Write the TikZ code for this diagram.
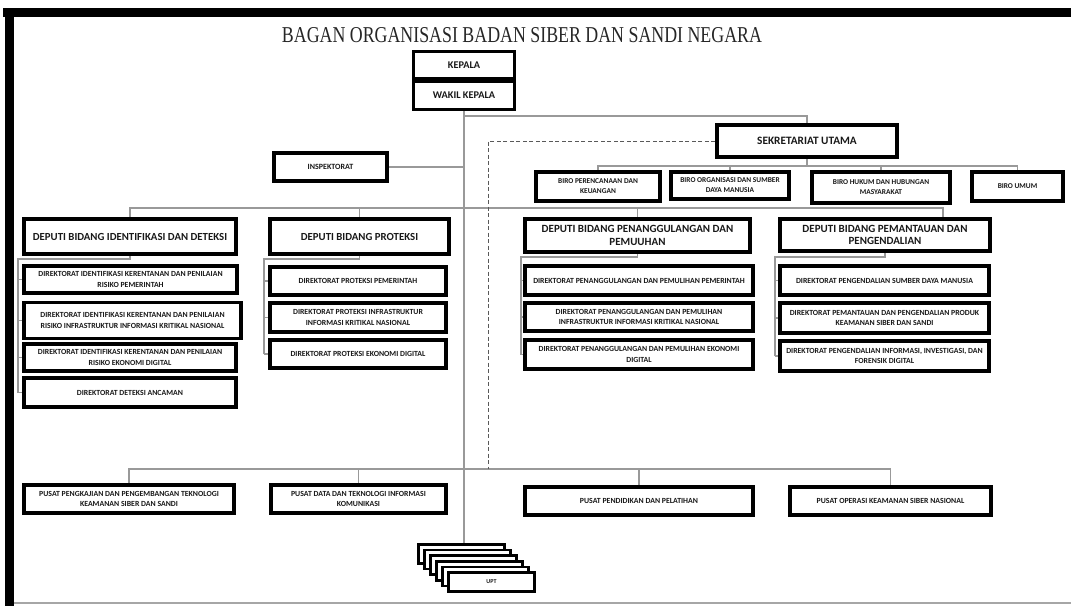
\documentclass[tikz,border=0pt]{standalone}
\usepackage{fontspec}
\usepackage{graphicx}
\setmainfont{Carlito}
\newfontfamily\titlefont{Liberation Serif}
\usetikzlibrary{backgrounds}
\tikzset{
  box/.style={draw=black, line width=3.6pt, fill=white, inner sep=0pt, align=center,
    text=black!90, font=\bfseries\fontsize{7.8}{10.4}\selectfont},
  bigbox/.style={box, line width=4pt, font=\bfseries\fontsize{10.8}{12.5}\selectfont},
  topbox/.style={box, line width=3.2pt, font=\bfseries\fontsize{10.3}{11}\selectfont},
  uptbox/.style={box, line width=2.6pt, minimum width=86pt, minimum height=19pt, font=\bfseries\fontsize{6}{7}\selectfont},
  conn/.style={draw=black!40, line width=1.3pt},
  dconn/.style={draw=black!65, line width=0.9pt, dash pattern=on 4pt off 2.5pt},
}
\begin{document}
\begin{tikzpicture}[x=1pt,y=-1pt]
\useasboundingbox (0,0) rectangle (1071,606);
% frame
\fill[black] (3,8) rectangle (1071,17);
\fill[black] (5,8) rectangle (14,606);
\draw[black!35, line width=1.5pt] (14,603) -- (1071,603);
% title
\node[text=black!85, inner sep=0pt] (title) at (522,35.5) {\resizebox{480pt}{15pt}{\titlefont BAGAN ORGANISASI BADAN SIBER DAN SANDI NEGARA}};
% top
\node[topbox, minimum width=101pt, minimum height=27pt] (kepala) at (464,65) {KEPALA};
\node[topbox, minimum width=101pt, minimum height=28pt] (wakil) at (464,95.5) {WAKIL KEPALA};
\node[bigbox, minimum width=180pt, minimum height=32pt, font=\bfseries\fontsize{11.3}{12.5}\selectfont] (sekre) at (807,141) {SEKRETARIAT UTAMA};
\node[box, minimum width=113pt, minimum height=28pt, font=\bfseries\fontsize{8}{9}\selectfont] (insp) at (330.5,167) {INSPEKTORAT};
% biro
\node[box, minimum width=124pt, minimum height=29pt, font=\bfseries\fontsize{7.4}{10}\selectfont] (biro1) at (598,186.5) {BIRO PERENCANAAN DAN\\KEUANGAN};
\node[box, minimum width=118pt, minimum height=27pt, font=\bfseries\fontsize{7.4}{10}\selectfont] (biro2) at (730,185.5) {BIRO ORGANISASI DAN SUMBER\\DAYA MANUSIA};
\node[box, minimum width=138pt, minimum height=31pt, font=\bfseries\fontsize{7.4}{10}\selectfont] (biro3) at (881,187.5) {BIRO HUKUM DAN HUBUNGAN\\MASYARAKAT};
\node[box, minimum width=91pt, minimum height=29pt, font=\bfseries\fontsize{7.4}{10}\selectfont] (biro4) at (1017.5,186.5) {BIRO UMUM};
% deputi
\node[bigbox, minimum width=212pt, minimum height=35pt] (dep1) at (130,236.5) {DEPUTI BIDANG IDENTIFIKASI DAN DETEKSI};
\node[bigbox, minimum width=179pt, minimum height=35pt] (dep2) at (359.5,236.5) {DEPUTI BIDANG PROTEKSI};
\node[bigbox, minimum width=225pt, minimum height=33pt, font=\bfseries\fontsize{11}{12.5}\selectfont] (dep3) at (637.5,235.5) {DEPUTI BIDANG PENANGGULANGAN DAN\\PEMUUHAN};
\node[bigbox, minimum width=210pt, minimum height=32pt, font=\bfseries\fontsize{11}{12.5}\selectfont] (dep4) at (885,235) {DEPUTI BIDANG PEMANTAUAN DAN\\PENGENDALIAN};
% direktorat 1
\node[box, minimum width=213pt, minimum height=27pt] (d1a) at (130.5,279.5) {DIREKTORAT IDENTIFIKASI KERENTANAN DAN PENILAIAN\\RISIKO PEMERINTAH};
\node[box, minimum width=217pt, minimum height=36pt] (d1b) at (132.5,320.5) {DIREKTORAT IDENTIFIKASI KERENTANAN DAN PENILAIAN\\RISIKO INFRASTRUKTUR INFORMASI KRITIKAL NASIONAL};
\node[box, minimum width=212pt, minimum height=27pt] (d1c) at (130,357.5) {DIREKTORAT IDENTIFIKASI KERENTANAN DAN PENILAIAN\\RISIKO EKONOMI DIGITAL};
\node[box, minimum width=212pt, minimum height=29pt] (d1d) at (130,392.5) {DIREKTORAT DETEKSI ANCAMAN};
% direktorat 2
\node[box, minimum width=176pt, minimum height=28pt] (d2a) at (358,281) {DIREKTORAT PROTEKSI PEMERINTAH};
\node[box, minimum width=176pt, minimum height=29pt] (d2b) at (358,317.5) {DIREKTORAT PROTEKSI INFRASTRUKTUR\\INFORMASI KRITIKAL NASIONAL};
\node[box, minimum width=176pt, minimum height=28pt] (d2c) at (358,354) {DIREKTORAT PROTEKSI EKONOMI DIGITAL};
% direktorat 3
\node[box, minimum width=228pt, minimum height=29pt] (d3a) at (639,280.5) {DIREKTORAT PENANGGULANGAN DAN PEMULIHAN PEMERINTAH};
\node[box, minimum width=228pt, minimum height=28pt] (d3b) at (639,317) {DIREKTORAT PENANGGULANGAN DAN PEMULIHAN\\INFRASTRUKTUR INFORMASI KRITIKAL NASIONAL};
\node[box, minimum width=228pt, minimum height=29pt] (d3c) at (639,354.5) {DIREKTORAT PENANGGULANGAN DAN PEMULIHAN EKONOMI\\DIGITAL};
% direktorat 4
\node[box, minimum width=209pt, minimum height=29pt] (d4a) at (884.5,280.5) {DIREKTORAT PENGENDALIAN SUMBER DAYA MANUSIA};
\node[box, minimum width=209pt, minimum height=30pt] (d4b) at (884.5,318) {DIREKTORAT PEMANTAUAN DAN PENGENDALIAN PRODUK\\KEAMANAN SIBER DAN SANDI};
\node[box, minimum width=209pt, minimum height=30pt] (d4c) at (884.5,356) {DIREKTORAT PENGENDALIAN INFORMASI, INVESTIGASI, DAN\\FORENSIK DIGITAL};
% pusat
\node[box, minimum width=210pt, minimum height=28pt] (p1) at (129,499) {PUSAT PENGKAJIAN DAN PENGEMBANGAN TEKNOLOGI\\KEAMANAN SIBER DAN SANDI};
\node[box, minimum width=175pt, minimum height=28pt] (p2) at (358.5,499) {PUSAT DATA DAN TEKNOLOGI INFORMASI\\KOMUNIKASI};
\node[box, minimum width=228pt, minimum height=28pt] (p3) at (639,501) {PUSAT PENDIDIKAN DAN PELATIHAN};
\node[box, minimum width=201pt, minimum height=28pt] (p4) at (890.5,501) {PUSAT OPERASI KEAMANAN SIBER NASIONAL};
% UPT stack
\node[uptbox] (upt0) at (461.5,554) {};
\node[uptbox] (upt1) at (467.5,559.6) {};
\node[uptbox] (upt2) at (473.5,565.2) {};
\node[uptbox] (upt3) at (479.5,570.8) {};
\node[uptbox] (upt4) at (485.5,576.4) {};
\node[uptbox] (upt5) at (491.5,582) {UPT};
% connectors
\begin{pgfonlayer}{background}
\coordinate (j1) at (464,116);
\coordinate (dj) at (943,208);
\coordinate (bj) at (807,166);
\coordinate (pj) at (890.5,469);
\coordinate (dsh) at (488,141);
\coordinate (b1) at (18,259);
\coordinate (b2) at (264,259);
\coordinate (b3) at (521,257);
\coordinate (b4) at (775,257);
\draw[conn] (wakil.south) -- (wakil.south |- upt0.north);
\draw[conn] (j1) -| (sekre.north);
\draw[conn] (insp.east) -- (insp.east -| j1);
\draw[conn] (dep1.north) |- (dj) -- (dj |- dep4.north);
\draw[conn] (dep2.north) -- (dep2.north |- dj);
\draw[conn] (dep3.north) -- (dep3.north |- dj);
\draw[conn] (sekre.south) -- (bj);
\draw[conn] (biro1.north) |- (biro4.north |- bj) -- (biro4.north);
\draw[conn] (biro2.north) -- (biro2.north |- bj);
\draw[conn] (biro3.north) -- (biro3.north |- bj);
\draw[conn] (dep1.south) |- (b1) -- (b1 |- d1d.west);
\foreach \n in {d1a,d1b,d1c,d1d} \draw[conn] (b1 |- \n.west) -- (\n.west);
\draw[conn] (dep2.south) |- (b2) -- (b2 |- d2c.west);
\foreach \n in {d2a,d2b,d2c} \draw[conn] (b2 |- \n.west) -- (\n.west);
\draw[conn] (dep3.south) |- (b3) -- (b3 |- d3c.west);
\foreach \n in {d3a,d3b,d3c} \draw[conn] (b3 |- \n.west) -- (\n.west);
\draw[conn] (dep4.south) |- (b4) -- (b4 |- d4c.west);
\foreach \n in {d4a,d4b,d4c} \draw[conn] (b4 |- \n.west) -- (\n.west);
\draw[conn] (p1.north) |- (pj) -- (p4.north);
\draw[conn] (p2.north) -- (p2.north |- pj);
\draw[conn] (p3.north) -- (p3.north |- pj);
\draw[dconn] (sekre.west) -- (dsh) -- (dsh |- pj);
\end{pgfonlayer}
\end{tikzpicture}
\end{document}
